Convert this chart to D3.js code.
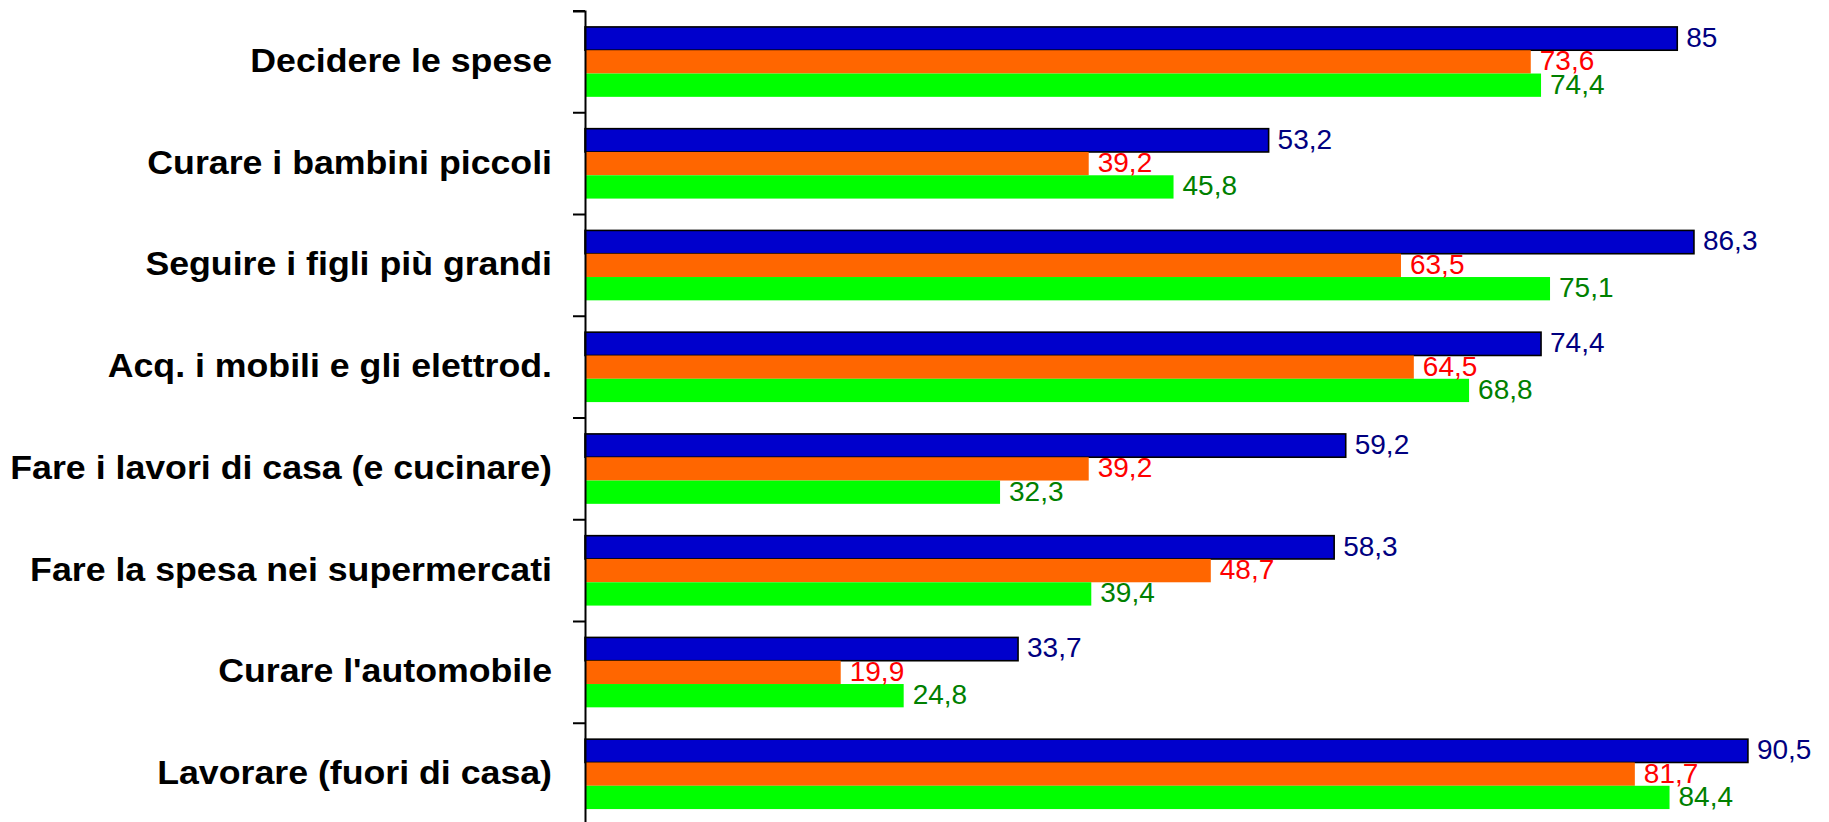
<!DOCTYPE html>
<html>
<head>
<meta charset="utf-8">
<script src="https://cdn.jsdelivr.net/npm/d3@7"></script>
<style>
  html, body { margin: 0; padding: 0; background: #ffffff; }
  svg { display: block; }
  text { font-family: "Liberation Sans", Arial, "DejaVu Sans", sans-serif; }
</style>
</head>
<body>
<svg id="chart" width="1829" height="822"></svg>
<script>
const categories = [
  "Decidere le spese",
  "Curare i bambini piccoli",
  "Seguire i figli più grandi",
  "Acq. i mobili e gli elettrod.",
  "Fare i lavori di casa (e cucinare)",
  "Fare la spesa nei supermercati",
  "Curare l'automobile",
  "Lavorare (fuori di casa)"
];
const seriesNames = ["blu", "arancio", "verde"];
const blueValues   = [85, 53.2, 86.3, 74.4, 59.2, 58.3, 33.7, 90.5];
const orangeValues = [73.6, 39.2, 63.5, 64.5, 39.2, 48.7, 19.9, 81.7];
const greenValues  = [74.4, 45.8, 75.1, 68.8, 32.3, 39.4, 24.8, 84.4];
const xDomain = [0, 100];

const seriesValues = [blueValues, orangeValues, greenValues];
const fills = ["#0000CC", "#FF6600", "#00FF00"];
const labelColors = ["#000080", "#FF0000", "#008000"];
const strokes = ["#000000", "none", "none"];

const svg = d3.select("#chart");
const x0 = 585;
const x = d3.scaleLinear().domain(xDomain).range([x0, x0 + 1285]);
const y = d3.scaleBand().domain(categories).range([11, 825]).padding(0);
const ys = d3.scaleBand().domain(seriesNames).range([0, y.bandwidth()])
  .paddingInner(0).paddingOuter(0.683);

const fmt = v => d3.format("")(v).replace(".", ",");

const data = [];
categories.forEach((c, i) => {
  seriesNames.forEach((s, j) => {
    data.push({ cat: c, s: s, j: j, v: seriesValues[j][i] });
  });
});

// bars
svg.append("g").selectAll("rect").data(data).enter().append("rect")
  .attr("x", x(0))
  .attr("y", d => y(d.cat) + ys(d.s))
  .attr("width", d => x(d.v) - x(0))
  .attr("height", ys.bandwidth())
  .attr("fill", d => fills[d.j])
  .attr("stroke", d => strokes[d.j])
  .attr("stroke-width", 1.6);

// axis
const axis = d3.axisLeft(y).tickSize(12).tickFormat("");
const gAxis = svg.append("g").attr("transform", `translate(${x0},0)`).call(axis);
gAxis.select(".domain").attr("stroke", "#000").attr("stroke-width", 2);
// move ticks to band boundaries
gAxis.selectAll(".tick").attr("transform", d => `translate(0,${y(d)})`);
gAxis.selectAll(".tick line").attr("stroke", "#000").attr("stroke-width", 2);

// category labels
svg.append("g").selectAll("text").data(categories).enter().append("text")
  .attr("text-anchor", "end")
  .attr("font-weight", "bold")
  .attr("font-size", 34)
  .attr("fill", "#000")
  .attr("transform", d => `translate(552,${y(d) + y.bandwidth() / 2 + 10}) scale(1.05,1)`)
  .text(d => d);

// value labels
svg.append("g").selectAll("text").data(data).enter().append("text")
  .attr("x", d => x(d.v) + 9)
  .attr("y", d => y(d.cat) + ys(d.s) + ys.bandwidth() / 2)
  .attr("dy", "0.3em")
  .attr("font-size", 28)
  .attr("fill", d => labelColors[d.j])
  .text(d => fmt(d.v));
</script>
</body>
</html>
